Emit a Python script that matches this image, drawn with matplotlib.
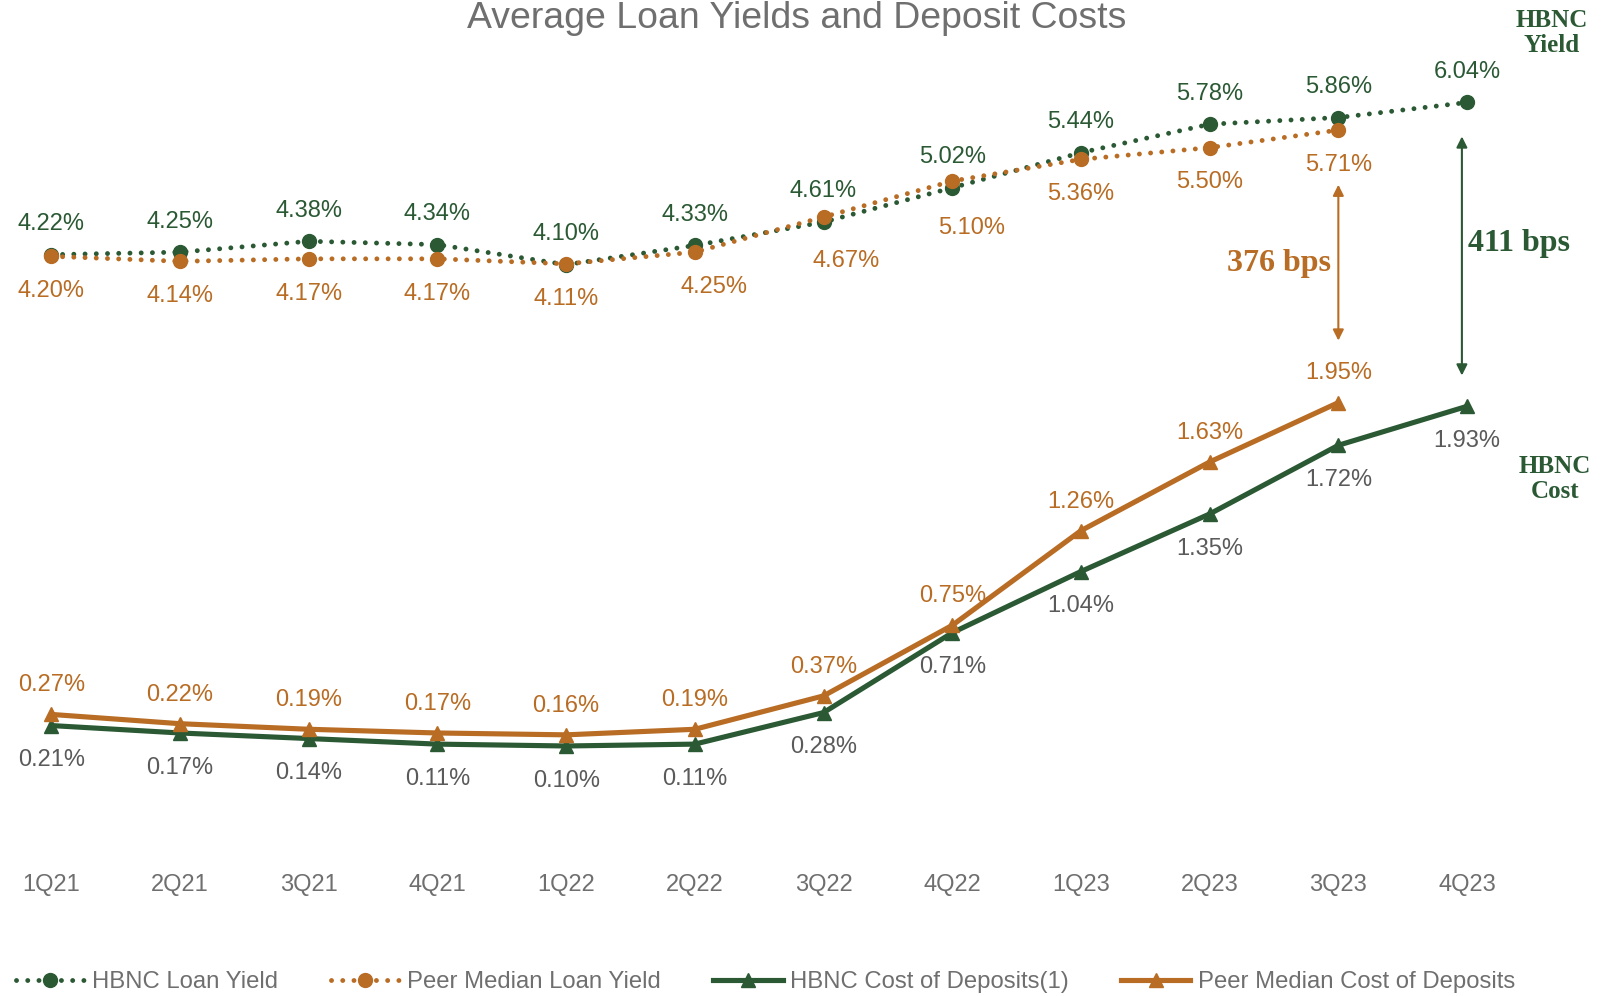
import matplotlib.pyplot as plt

# data
quarters = ['1Q21', '2Q21', '3Q21', '4Q21', '1Q22', '2Q22',
            '3Q22', '4Q22', '1Q23', '2Q23', '3Q23', '4Q23']
hbnc_yield = [4.22, 4.25, 4.38, 4.34, 4.10, 4.33, 4.61, 5.02, 5.44, 5.78, 5.86, 6.04]
peer_yield = [4.20, 4.14, 4.17, 4.17, 4.11, 4.25, 4.67, 5.10, 5.36, 5.50, 5.71]
hbnc_cost = [0.21, 0.17, 0.14, 0.11, 0.10, 0.11, 0.28, 0.71, 1.04, 1.35, 1.72, 1.93]
peer_cost = [0.27, 0.22, 0.19, 0.17, 0.16, 0.19, 0.37, 0.75, 1.26, 1.63, 1.95]

GREEN = '#2a5934'
ORANGE = '#b86c24'
GRAY = '#6f6f6f'
DGRAY = '#5a5a5a'

plt.rcParams['font.family'] = ['Liberation Sans', 'DejaVu Sans']

fig = plt.figure(figsize=(16.09, 9.96), dpi=100)
ax = fig.add_axes([0, 0, 1, 1])
ax2 = ax.twinx()
ax.set_xlim(-0.399, 12.103)
ax.set_ylim(-4.648, 7.266)
ax2.set_ylim(-1.247, 4.119)
ax.axis('off')
ax2.axis('off')

dots = (0, (0.01, 2.3))
l1, = ax.plot(range(len(hbnc_yield)), hbnc_yield, color=GREEN, lw=3.5, ls=dots,
              dash_capstyle='round', marker='o', ms=10, label='HBNC Loan Yield')
l2, = ax.plot(range(len(peer_yield)), peer_yield, color=ORANGE, lw=3.5, ls=dots,
              dash_capstyle='round', marker='o', ms=10, label='Peer Median Loan Yield')
l3, = ax2.plot(range(len(hbnc_cost)), hbnc_cost, color=GREEN, lw=3.7,
               marker='^', ms=10.5, label='HBNC Cost of Deposits(1)')
l4, = ax2.plot(range(len(peer_cost)), peer_cost, color=ORANGE, lw=3.7,
               marker='^', ms=10.5, label='Peer Median Cost of Deposits')

fs = 17
# data labels
for i, v in enumerate(hbnc_yield):
    ax.annotate(f'{v:.2f}%', (i, v), xytext=(0, 22), textcoords='offset points',
                ha='center', va='center', fontsize=fs, color=GREEN)
peer_dx = [0, 0, 0, 0, 0, 14, 16, 14, 0, 0, 0]
peer_dy = [-25, -25, -25, -25, -25, -25, -32, -34, -25, -25, -25]
for i, v in enumerate(peer_yield):
    ax.annotate(f'{v:.2f}%', (i, v), xytext=(peer_dx[i], peer_dy[i]), textcoords='offset points',
                ha='center', va='center', fontsize=fs, color=ORANGE)
for i, v in enumerate(hbnc_cost):
    ax2.annotate(f'{v:.2f}%', (i, v), xytext=(0, -25), textcoords='offset points',
                 ha='center', va='center', fontsize=fs, color=DGRAY)
for i, v in enumerate(peer_cost):
    ax2.annotate(f'{v:.2f}%', (i, v), xytext=(0, 21), textcoords='offset points',
                 ha='center', va='center', fontsize=fs, color=ORANGE)

# category labels
for i, q in enumerate(quarters):
    ax.text(i, 1 - 884.6 / 996, q, transform=ax.get_xaxis_transform(),
            ha='center', va='center', fontsize=fs, color=GRAY)

# spread arrows
ax2.annotate('', xy=(10, 2.284), xytext=(10, 3.124),
             arrowprops=dict(arrowstyle='<|-|>', color=ORANGE, lw=1.5, mutation_scale=16,
                             shrinkA=0, shrinkB=0))
ax2.annotate('', xy=(10.96, 2.096), xytext=(10.96, 3.384),
             arrowprops=dict(arrowstyle='<|-|>', color=GREEN, lw=1.5, mutation_scale=16,
                             shrinkA=0, shrinkB=0))

serif = ['Liberation Serif', 'DejaVu Serif']
fig.text(1279 / 1609, 1 - 263 / 996, '376 bps', ha='center', va='center', fontsize=23,
         fontweight='bold', family=serif, color=ORANGE)
fig.text(1519 / 1609, 1 - 243 / 996, '411 bps', ha='center', va='center', fontsize=23,
         fontweight='bold', family=serif, color=GREEN)
fig.text(1552 / 1609, 1 - 33 / 996, 'HBNC\nYield', ha='center', va='center', fontsize=18,
         fontweight='bold', family=serif, color=GREEN, linespacing=1.1)
fig.text(1555 / 1609, 1 - 479 / 996, 'HBNC\nCost', ha='center', va='center', fontsize=18,
         fontweight='bold', family=serif, color=GREEN, linespacing=1.1)

fig.text(0.495, 1 - 19 / 996, 'Average Loan Yields and Deposit Costs', ha='center',
         va='center', fontsize=26.9, color=GRAY)

leg = fig.legend(handles=[l1, l2, l3, l4], loc='center left', bbox_to_anchor=(6 / 1609, 1 - 982 / 996),
                 ncol=4, frameon=False, fontsize=17.2, handlelength=2.9, columnspacing=2.2,
                 handletextpad=0.3, borderaxespad=0)
for t in leg.get_texts():
    t.set_color(GRAY)

fig.savefig('out.png', dpi=100)
